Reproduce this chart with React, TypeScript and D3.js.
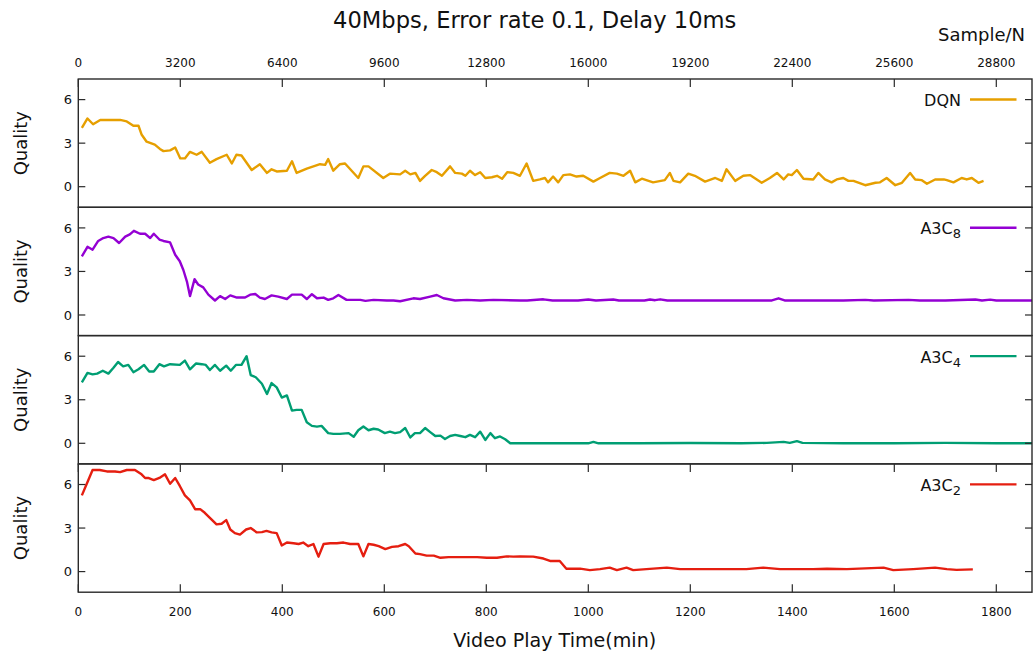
import React from 'react';
import * as d3 from 'd3';

type Pt = [number, number];

const dqnData: Pt[] = [[7,4.05],[18,4.7],[29,4.3],[43,4.6],[62,4.6],[82,4.6],[95,4.5],[108,4.2],[118,4.2],[124,3.6],[134,3.1],[150,2.9],[160,2.6],[167,2.45],[180,2.5],[190,2.7],[200,1.95],[209,1.95],[219,2.4],[232,2.2],[242,2.4],[258,1.65],[271,1.9],[291,2.2],[301,1.6],[310,2.2],[320,2.15],[340,1.15],[356,1.55],[370,0.95],[379,1.2],[389,1.05],[409,1.1],[419,1.75],[428,0.95],[448,1.25],[474,1.55],[484,1.5],[490,1.9],[500,1.1],[513,1.55],[523,1.6],[549,0.6],[559,1.4],[569,1.4],[598,0.6],[611,0.9],[631,0.85],[641,1.1],[651,0.85],[661,0.95],[670,0.4],[680,0.75],[693,1.15],[703,1.0],[713,0.75],[729,1.4],[739,0.95],[752,0.9],[759,0.75],[768,1.1],[778,0.8],[788,1.0],[798,0.6],[811,0.65],[821,0.75],[831,0.55],[841,1.0],[853,0.95],[866,0.75],[879,1.6],[892,0.4],[905,0.5],[915,0.6],[921,0.3],[931,0.7],[941,0.3],[951,0.8],[964,0.85],[977,0.7],[990,0.75],[1010,0.35],[1023,0.6],[1042,0.95],[1056,0.9],[1069,0.75],[1082,1.1],[1092,0.3],[1105,0.55],[1127,0.3],[1150,0.45],[1160,0.95],[1167,0.4],[1180,0.3],[1196,0.9],[1209,0.75],[1229,0.35],[1249,0.6],[1262,0.4],[1271,1.2],[1288,0.4],[1304,0.75],[1317,0.8],[1340,0.27],[1356,0.6],[1370,0.95],[1383,0.5],[1392,0.85],[1399,0.8],[1409,1.15],[1422,0.55],[1441,0.5],[1451,0.95],[1464,0.5],[1477,0.3],[1487,0.5],[1500,0.6],[1510,0.4],[1520,0.4],[1543,0.1],[1563,0.27],[1572,0.3],[1585,0.6],[1602,0.1],[1615,0.27],[1631,0.95],[1641,0.5],[1654,0.45],[1664,0.2],[1680,0.5],[1697,0.5],[1703,0.45],[1716,0.3],[1732,0.6],[1742,0.5],[1752,0.6],[1765,0.27],[1775,0.4]];

const a3c8Data: Pt[] = [[7,4.04],[18,4.7],[28,4.5],[39,5.1],[49,5.3],[59,5.4],[69,5.3],[80,4.96],[92,5.4],[101,5.55],[109,5.8],[121,5.6],[131,5.6],[141,5.3],[148,5.6],[159,5.2],[167,5.1],[180,5.0],[190,4.15],[199,3.7],[206,3.1],[213,2.3],[219,1.3],[228,2.47],[235,2.1],[245,1.9],[255,1.4],[268,1.0],[278,1.3],[288,1.1],[298,1.35],[311,1.2],[327,1.2],[337,1.4],[347,1.45],[356,1.2],[366,1.1],[379,1.35],[392,1.27],[409,1.1],[419,1.4],[438,1.4],[448,1.1],[458,1.43],[468,1.15],[481,1.2],[490,1.04],[500,1.15],[510,1.38],[526,1.04],[553,1.04],[563,0.97],[579,1.04],[605,1.0],[618,1.0],[631,0.95],[657,1.15],[670,1.1],[690,1.27],[703,1.38],[716,1.15],[739,1.0],[762,1.04],[788,1.0],[814,1.04],[867,1.0],[880,1.0],[912,1.08],[930,1.0],[980,1.0],[1000,1.07],[1015,1.0],[1049,1.07],[1060,1.0],[1110,1.0],[1121,1.07],[1131,1.02],[1141,1.08],[1155,1.0],[1200,1.0],[1250,1.0],[1300,1.0],[1360,1.0],[1373,1.15],[1385,1.0],[1450,1.0],[1500,1.0],[1543,1.04],[1560,1.0],[1628,1.04],[1650,1.0],[1700,1.0],[1759,1.07],[1772,1.0],[1788,1.06],[1800,1.0],[1870,1.0]];

const a3c4Data: Pt[] = [[7,4.2],[18,4.85],[28,4.75],[37,4.8],[48,5.0],[59,4.8],[69,5.2],[78,5.6],[88,5.3],[98,5.4],[108,4.9],[118,5.1],[129,5.4],[139,4.95],[148,4.95],[159,5.45],[168,5.3],[180,5.45],[199,5.4],[209,5.7],[219,5.1],[231,5.5],[242,5.45],[250,5.4],[258,5.05],[268,5.4],[278,5.0],[290,5.35],[299,5.0],[309,5.4],[320,5.4],[330,6.0],[338,4.7],[348,4.55],[360,4.1],[370,3.4],[379,4.15],[389,3.85],[399,3.15],[409,3.3],[419,2.25],[428,2.3],[438,2.3],[448,1.45],[458,1.2],[468,1.15],[477,1.2],[490,0.7],[500,0.65],[513,0.65],[530,0.7],[540,0.45],[549,0.9],[559,1.15],[569,0.9],[579,1.0],[588,0.95],[601,0.7],[611,0.8],[621,0.7],[631,0.77],[641,1.05],[651,0.4],[660,0.7],[670,0.7],[680,1.05],[690,0.77],[700,0.5],[710,0.53],[719,0.3],[729,0.5],[739,0.58],[749,0.5],[759,0.42],[768,0.58],[778,0.42],[788,0.8],[798,0.23],[808,0.7],[817,0.35],[827,0.47],[837,0.28],[847,0.0],[867,0.0],[920,0.0],[1000,0.0],[1010,0.1],[1020,0.0],[1100,0.0],[1200,0.02],[1300,0.0],[1350,0.03],[1383,0.1],[1395,0.03],[1409,0.15],[1420,0.03],[1500,0.0],[1600,0.0],[1700,0.03],[1800,0.0],[1870,0.0]];

const a3c2Data: Pt[] = [[7,5.25],[16,6.0],[28,7.0],[42,7.0],[56,6.9],[72,6.9],[82,6.85],[95,7.0],[111,7.0],[124,6.7],[131,6.45],[137,6.45],[148,6.3],[159,6.45],[170,6.7],[180,6.05],[190,6.45],[199,5.9],[209,5.25],[219,4.9],[229,4.3],[239,4.3],[248,4.05],[258,3.7],[271,3.25],[281,3.3],[290,3.55],[298,2.9],[307,2.65],[317,2.55],[329,2.9],[338,3.0],[350,2.7],[360,2.72],[369,2.8],[379,2.7],[389,2.65],[399,1.8],[409,2.0],[422,1.95],[432,1.9],[441,2.0],[451,1.75],[461,1.9],[471,1.03],[481,1.9],[494,1.95],[507,1.95],[520,2.0],[533,1.9],[549,1.9],[559,1.05],[569,1.9],[579,1.85],[589,1.75],[602,1.55],[615,1.7],[628,1.75],[641,1.9],[648,1.75],[661,1.25],[670,1.2],[683,1.1],[697,1.1],[710,0.95],[726,1.0],[743,1.0],[762,1.0],[782,1.0],[801,0.95],[821,0.95],[840,1.05],[853,1.03],[866,1.05],[892,1.03],[912,0.9],[925,0.73],[944,0.73],[957,0.2],[984,0.2],[1003,0.1],[1023,0.17],[1042,0.27],[1056,0.1],[1075,0.27],[1088,0.1],[1114,0.17],[1154,0.27],[1180,0.17],[1245,0.17],[1310,0.17],[1343,0.27],[1376,0.17],[1441,0.17],[1468,0.2],[1507,0.17],[1579,0.27],[1598,0.1],[1637,0.17],[1680,0.27],[1703,0.17],[1722,0.12],[1754,0.15]];

const seriesData: Pt[][] = [dqnData, a3c8Data, a3c4Data, a3c2Data];
const seriesNames = ['DQN', 'A3C', 'A3C', 'A3C'];
const seriesSubs = ['', '8', '4', '2'];
const seriesColors = ['#e69f00', '#9400d3', '#009e73', '#e51e10'];

const timeTicks = [0, 200, 400, 600, 800, 1000, 1200, 1400, 1600, 1800];
const sampleTicks = [0, 3200, 6400, 9600, 12800, 16000, 19200, 22400, 25600, 28800];
const qualityTicks = [0, 3, 6];
const timeDomain: [number, number] = [0, 1870];
const samplesPerMin = 16;
const qualityDomain: [number, number] = [-1.42, 7.42];

const W = 1033;
const H = 657;
const left = 78.3;
const right = 1032;
const top0 = 79;
const panelH = 128.3;
const font = "'DejaVu Sans', Verdana, sans-serif";

export default function App() {
  const x = d3.scaleLinear().domain(timeDomain).range([left, right]);
  const x2 = d3.scaleLinear().domain([timeDomain[0] * samplesPerMin, timeDomain[1] * samplesPerMin]).range([left, right]);
  const border = '#2a2a2a';
  const tickLen = 7;

  return (
    <svg width={W} height={H} style={{ position: 'absolute', left: 0, top: 0, background: '#fff' }} fontFamily={font}>
      <text x={534.7} y={28} textAnchor="middle" fontSize={22.6} fill="#111">40Mbps, Error rate 0.1, Delay 10ms</text>
      <text x={1025} y={41} textAnchor="end" fontSize={18} fill="#111">Sample/N</text>
      {sampleTicks.map(s => (
        <text key={'st' + s} x={x2(s)} y={66.5} textAnchor="middle" fontSize={12} fill="#111">{s}</text>
      ))}
      {seriesData.map((data, i) => {
        const t = top0 + i * panelH;
        const y = d3.scaleLinear().domain(qualityDomain).range([t + panelH, t]);
        const line = d3.line<Pt>().x(d => x(d[0])).y(d => y(d[1]));
        return (
          <g key={i}>
            <defs>
              <clipPath id={'clip' + i}>
                <rect x={left} y={t} width={right - left} height={panelH} />
              </clipPath>
            </defs>
            <path d={line(data) || ''} fill="none" stroke={seriesColors[i]} strokeWidth={2.4} strokeLinejoin="round" clipPath={`url(#clip${i})`} />
            {qualityTicks.map(q => (
              <g key={q}>
                <line x1={left} x2={left + tickLen} y1={y(q)} y2={y(q)} stroke={border} strokeWidth={1.2} />
                <line x1={right - tickLen} x2={right} y1={y(q)} y2={y(q)} stroke={border} strokeWidth={1.2} />
                <text x={72} y={y(q)} dy="0.36em" textAnchor="end" fontSize={13} fill="#111">{q}</text>
              </g>
            ))}
            {i === 0 && sampleTicks.map(s => (
              <line key={s} x1={x2(s)} x2={x2(s)} y1={t} y2={t + 8} stroke={border} strokeWidth={1.2} />
            ))}
            {i === 3 && timeTicks.map(m => (
              <g key={m}>
                <line x1={x(m)} x2={x(m)} y1={t} y2={t + 8} stroke={border} strokeWidth={1.2} />
                <line x1={x(m)} x2={x(m)} y1={t + panelH - 8} y2={t + panelH} stroke={border} strokeWidth={1.2} />
                <text x={x(m)} y={616} textAnchor="middle" fontSize={12} fill="#111">{m}</text>
              </g>
            ))}
            <rect x={left} y={t} width={right - left} height={panelH} fill="none" stroke={border} strokeWidth={1.4} />
            <text x={27} y={t + panelH / 2} transform={`rotate(-90 27 ${t + panelH / 2})`} textAnchor="middle" fontSize={18} fill="#111">Quality</text>
            <line x1={970} x2={1016.5} y1={t + 20.5} y2={t + 20.5} stroke={seriesColors[i]} strokeWidth={2.4} />
            <text x={961} y={t + 27} textAnchor="end" fontSize={16} fill="#111">
              {seriesNames[i]}
              {seriesSubs[i] && <tspan fontSize={13} dy={4}>{seriesSubs[i]}</tspan>}
            </text>
          </g>
        );
      })}
      <text x={554.7} y={647} textAnchor="middle" fontSize={19.1} fill="#111">Video Play Time(min)</text>
    </svg>
  );
}
